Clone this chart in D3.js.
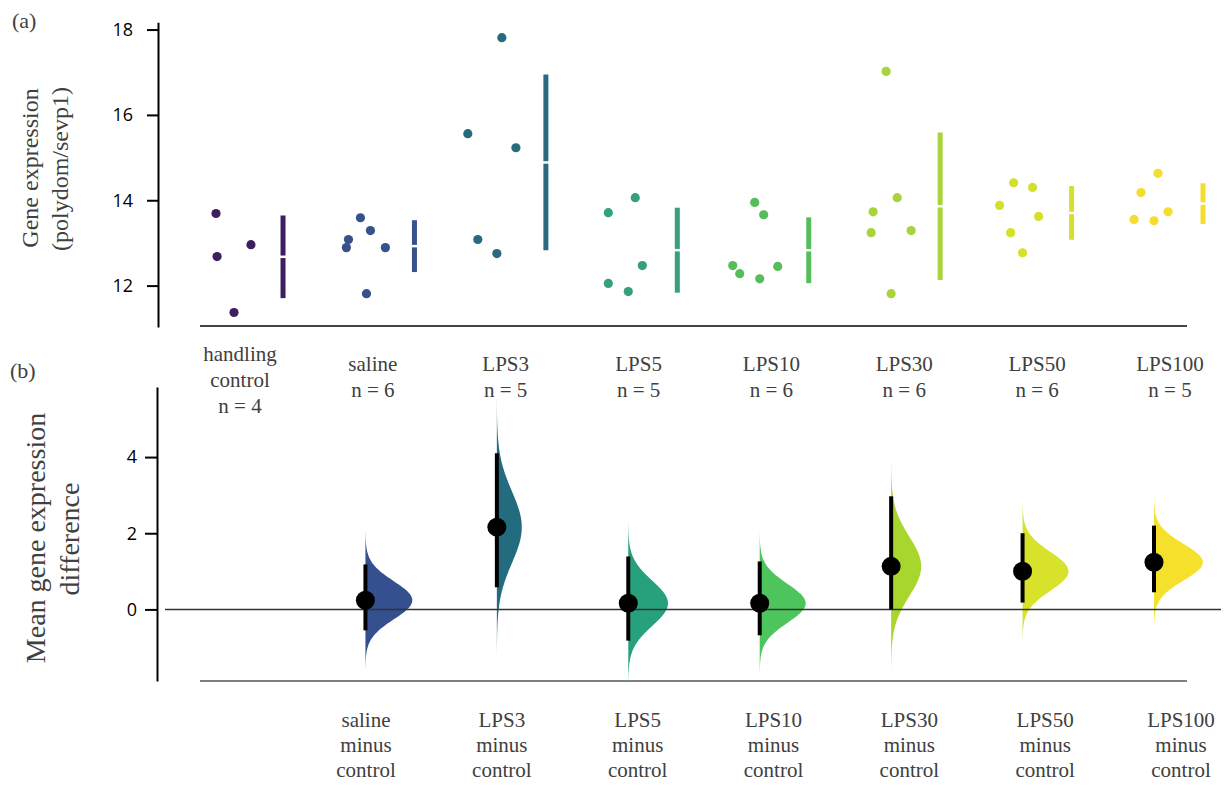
<!DOCTYPE html>
<html>
<head>
<meta charset="utf-8">
<script src="https://cdn.jsdelivr.net/npm/d3@7"></script>
<style>
  body { margin: 0; background: #fff; }
  svg { display: block; }
</style>
</head>
<body>
<svg id="chart" width="1228" height="787"></svg>
<script>
// groups shown in panel (a)
const groups = ["handling control", "saline", "LPS3", "LPS5", "LPS10", "LPS30", "LPS50", "LPS100"];
const groupN = [4, 6, 5, 5, 6, 6, 6, 5];
const pointColors = ["#3d1f60", "#37518a", "#2a6a7e", "#35a079", "#56bd5b", "#a8d33a", "#d4e02c", "#f4dd2e"];

// raw gene expression per group, with swarm offsets (fraction of category step)
const expression = [
  [13.69, 12.68, 12.96, 11.37],
  [13.59, 13.29, 13.08, 12.89, 12.89, 11.81],
  [17.81, 15.56, 15.23, 13.08, 12.75],
  [14.06, 13.71, 12.47, 12.05, 11.86],
  [13.95, 13.66, 12.47, 12.28, 12.16, 12.45],
  [17.02, 14.06, 13.73, 13.24, 13.29, 11.81],
  [14.41, 14.30, 13.88, 13.62, 13.24, 12.77],
  [14.63, 14.18, 13.73, 13.55, 13.52]
];
const jitter = [
  [-0.137, -0.129, 0.129, 0],
  [-0.038, 0.038, -0.129, -0.145, 0.152, 0.008],
  [0.038, -0.221, 0.145, -0.145, 0],
  [0.053, -0.152, 0.107, -0.152, 0],
  [-0.038, 0.030, -0.205, -0.152, 0, 0.137],
  [-0.038, 0.046, -0.137, -0.152, 0.152, 0],
  [-0.068, 0.076, -0.175, 0.122, -0.091, 0],
  [0.030, -0.099, 0.107, -0.152, 0]
];

// panel (b): mean differences vs handling control
const diffGroups = ["saline", "LPS3", "LPS5", "LPS10", "LPS30", "LPS50", "LPS100"];
const diffMean = [0.24, 2.16, 0.16, 0.16, 1.13, 1.00, 1.24];
const ciLow = [-0.55, 0.58, -0.82, -0.68, 0.00, 0.18, 0.45];
const ciHigh = [1.18, 4.10, 1.39, 1.26, 2.97, 2.00, 2.20];
const bootSd = [0.50, 0.94, 0.59, 0.51, 0.78, 0.51, 0.48];
const diffColors = ["#35508f", "#236c80", "#27a07c", "#4ec45c", "#a9d62c", "#d8e22a", "#f5e02c"];

const topTicks = [12, 14, 16, 18];
const bottomTicks = [0, 2, 4];

const SERIF = "Liberation Serif, Times New Roman, Times, DejaVu Serif, Noto Serif, serif";
const svg = d3.select("#chart");

// scales
const x = d3.scalePoint().domain(groups).range([234, 1154]);
const step = x.step();
const yTop = d3.scaleLinear().domain([11.03, 18.17]).range([327, 22.3]);
const yBot = d3.scaleLinear().domain([-1.88, 5.84]).range([681, 387]);
const topLabelX = d3.scalePoint().domain(groups).range([240, 1170]);
const botLabelX = d3.scalePoint().domain(diffGroups).range([366, 1181]);
const densityW = d3.scaleLinear().domain([0, 0.8]).range([0, 47]);

function styleAxis(g) {
  g.select(".domain").attr("stroke-width", 2);
  g.selectAll(".tick line").attr("stroke-width", 2);
  g.selectAll(".tick text")
      .attr("font-family", "Open Sans, sans-serif")
      .attr("font-size", 18)
      .attr("fill", "#000");
}

function serifText(sel, size) {
  return sel.append("text")
      .style("font-family", SERIF)
      .attr("font-size", size)
      .attr("fill", "#404040");
}

// ---------- panel (a) ----------
svg.append("g")
    .attr("transform", "translate(158,0)")
    .call(d3.axisLeft(yTop).tickValues(topTicks).tickSize(11).tickPadding(14).tickSizeOuter(0))
    .call(styleAxis);

svg.append("line")
    .attr("x1", 200).attr("x2", 1187)
    .attr("y1", 326).attr("y2", 326)
    .attr("stroke", "#444").attr("stroke-width", 2);

const gA = svg.append("g");
groups.forEach((g, i) => {
  const pts = expression[i].map((v, j) => ({ v, j: jitter[i][j] }));
  gA.append("g").selectAll("circle")
    .data(pts)
    .join("circle")
      .attr("cx", d => x(g) + d.j * step)
      .attr("cy", d => yTop(d.v))
      .attr("r", 4.6)
      .attr("fill", pointColors[i]);

  // mean +/- sd bar with a gap at the mean
  const m = d3.mean(expression[i]);
  const sd = d3.deviation(expression[i]);
  const bx = x(g) + step * 0.373;
  gA.append("line")
      .attr("x1", bx).attr("x2", bx)
      .attr("y1", yTop(m + sd)).attr("y2", yTop(m - sd))
      .attr("stroke", pointColors[i]).attr("stroke-width", 5);
  gA.append("line")
      .attr("x1", bx - 4).attr("x2", bx + 4)
      .attr("y1", yTop(m)).attr("y2", yTop(m))
      .attr("stroke", "#fff").attr("stroke-width", 2.5);
});

// group labels between panels
groups.forEach((g, i) => {
  const lines = g === "handling control" ? ["handling", "control", `n = ${groupN[i]}`] : [g, `n = ${groupN[i]}`];
  const y0 = lines.length === 3 ? 361 : 371;
  serifText(svg, 21)
      .attr("text-anchor", "middle")
    .selectAll("tspan")
    .data(lines)
    .join("tspan")
      .attr("x", topLabelX(g))
      .attr("y", (d, k) => y0 + k * 26)
      .text(d => d);
});

// ---------- panel (b) ----------
svg.append("g")
    .attr("transform", "translate(157,0)")
    .call(d3.axisLeft(yBot).tickValues(bottomTicks).tickSize(12).tickPadding(8).tickSizeOuter(0))
    .call(styleAxis);

svg.append("line")
    .attr("x1", 200).attr("x2", 1187)
    .attr("y1", 681).attr("y2", 681)
    .attr("stroke", "#555").attr("stroke-width", 1.5);

const area = d3.area()
    .curve(d3.curveBasis)
    .y(d => yBot(d.v));

const gViolin = svg.append("g");
diffGroups.forEach((g, i) => {
  const cx = x(g);
  const mu = diffMean[i], s = bootSd[i];
  const dens = d3.range(-3.6, 3.61, 0.05).map(z => ({
    v: mu + z * s,
    d: Math.exp(-0.5 * z * z) / (s * Math.sqrt(2 * Math.PI))
  }));
  gViolin.append("path")
      .datum(dens)
      .attr("d", area.x0(cx).x1(d => cx + densityW(d.d)))
      .attr("fill", diffColors[i]);
});

svg.append("line")
    .attr("x1", 165).attr("x2", 1221)
    .attr("y1", yBot(0)).attr("y2", yBot(0))
    .attr("stroke", "#333").attr("stroke-width", 1.5);

const gCI = svg.append("g");
diffGroups.forEach((g, i) => {
  const cx = x(g);
  gCI.append("line")
      .attr("x1", cx).attr("x2", cx)
      .attr("y1", yBot(ciHigh[i])).attr("y2", yBot(ciLow[i]))
      .attr("stroke", "#000").attr("stroke-width", 4);
  gCI.append("circle")
      .attr("cx", cx).attr("cy", yBot(diffMean[i]))
      .attr("r", 9.5).attr("fill", "#000");
});

diffGroups.forEach(g => {
  serifText(svg, 21)
      .attr("text-anchor", "middle")
    .selectAll("tspan")
    .data([g, "minus", "control"])
    .join("tspan")
      .attr("x", botLabelX(g))
      .attr("y", (d, k) => 727 + k * 25)
      .text(d => d);
});

// axis titles and panel letters
serifText(svg, 24).attr("text-anchor", "middle")
    .attr("transform", "translate(38,168) rotate(-90)")
    .text("Gene expression");
serifText(svg, 24).attr("text-anchor", "middle")
    .attr("transform", "translate(68,169) rotate(-90)")
    .text("(polydom/sevp1)");
serifText(svg, 28).attr("text-anchor", "middle")
    .attr("transform", "translate(45,538) rotate(-90)")
    .text("Mean gene expression");
serifText(svg, 28).attr("text-anchor", "middle")
    .attr("transform", "translate(79,539) rotate(-90)")
    .text("difference");

serifText(svg, 22).attr("x", 12).attr("y", 28).text("(a)");
serifText(svg, 22).attr("x", 10).attr("y", 378).text("(b)");
</script>
</body>
</html>
